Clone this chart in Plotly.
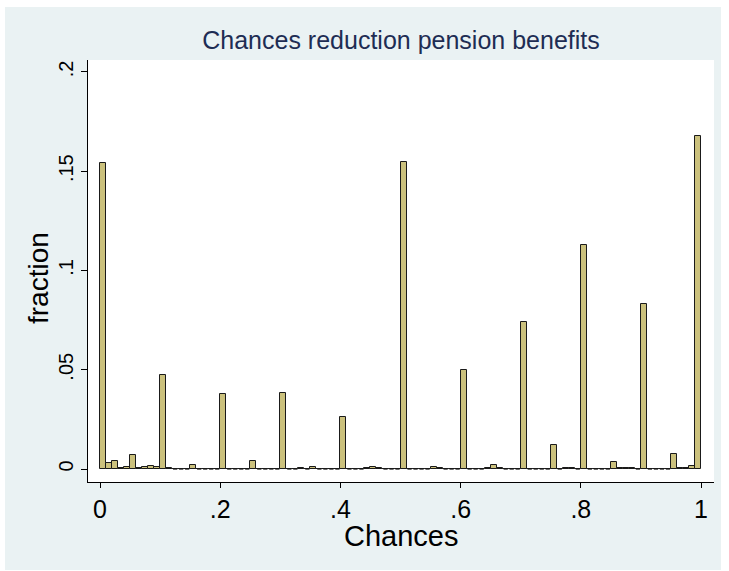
import plotly.graph_objects as go

# Histogram of "Chances" in 100 bins of width 0.01 on [0, 1]; heights are fractions
bin_width = 0.01
fractions = [
    0.1542, 0.0029, 0.0040, 0.0005, 0.0012, 0.0069, 0.0003, 0.0012, 0.0015, 0.0008,  # 0.00-0.09
    0.0474, 0.0003, 0.0, 0.0, 0.0, 0.0020, 0.0, 0.0, 0.0, 0.0,                        # 0.10-0.19
    0.0376, 0.0, 0.0, 0.0, 0.0, 0.0039, 0.0, 0.0, 0.0, 0.0,                           # 0.20-0.29
    0.0383, 0.0, 0.0, 0.0003, 0.0, 0.0008, 0.0, 0.0, 0.0, 0.0,                        # 0.30-0.39
    0.0262, 0.0, 0.0, 0.0, 0.0003, 0.0008, 0.0003, 0.0, 0.0, 0.0,                     # 0.40-0.49
    0.1544, 0.0, 0.0, 0.0, 0.0, 0.0008, 0.0003, 0.0, 0.0, 0.0,                        # 0.50-0.59
    0.0499, 0.0, 0.0, 0.0, 0.0003, 0.0018, 0.0003, 0.0, 0.0, 0.0,                     # 0.60-0.69
    0.0741, 0.0, 0.0, 0.0, 0.0, 0.0120, 0.0, 0.0003, 0.0003, 0.0,                     # 0.70-0.79
    0.1128, 0.0, 0.0, 0.0, 0.0, 0.0037, 0.0003, 0.0003, 0.0003, 0.0,                  # 0.80-0.89
    0.0829, 0.0, 0.0, 0.0, 0.0, 0.0074, 0.0003, 0.0003, 0.0013, 0.1678,               # 0.90-0.99
]

x_tickvals = [0, 0.2, 0.4, 0.6, 0.8, 1.0]
x_ticktext = ["0", ".2", ".4", ".6", ".8", "1"]
y_tickvals = [0, 0.05, 0.1, 0.15, 0.2]
y_ticktext = ["0", ".05", ".1", ".15", ".2"]

title_text = "Chances reduction pension benefits"
x_title = "Chances"
y_title = "fraction"

bin_left = [i * bin_width for i in range(len(fractions))]
bin_center = [b + bin_width / 2 for b in bin_left]

# empty bins are shown as short outline strokes on the baseline
gap = 0.0015
zx, zy = [], []
for b, f in zip(bin_left, fractions):
    if f == 0:
        zx += [b + gap, b + bin_width - gap, None]
        zy += [0, 0, None]

FONT = "Liberation Sans, Arial, Helvetica, sans-serif"
BAR_FILL = "#CBC17D"
OUTLINE = "#1a1a1a"

W, H = 729, 571
L, R, T, B = 88, 15, 60, 89
plot_w = W - L - R
plot_h = H - T - B

fig = go.Figure()
fig.add_trace(go.Bar(
    x=bin_center, y=fractions, width=bin_width,
    marker=dict(color=BAR_FILL, line=dict(color=OUTLINE, width=1)),
    hoverinfo="x+y",
))
fig.add_trace(go.Scatter(
    x=zx, y=zy, mode="lines",
    line=dict(color=OUTLINE, width=1.3),
    hoverinfo="skip",
))

fig.update_layout(
    width=W, height=H,
    margin=dict(l=L, r=R, t=T, b=B),
    paper_bgcolor="white",
    plot_bgcolor="white",
    showlegend=False,
    bargap=0,
    font=dict(family=FONT, color="black"),
    title=dict(
        text=title_text, xref="paper", x=0.5, xanchor="center",
        y=1 - 40 / H, yanchor="middle",
        font=dict(size=25, color="#1E2D53", family=FONT),
    ),
    shapes=[
        # graph region panel
        dict(type="rect", xref="paper", yref="paper", layer="below",
             x0=-0.1326, x1=1.0112, y0=-0.2085, y1=1.1256,
             fillcolor="#EAF2F3", line=dict(width=0)),
        # plot region
        dict(type="rect", xref="paper", yref="paper", layer="below",
             x0=0, x1=1, y0=0, y1=1,
             fillcolor="white", line=dict(width=0)),
    ],
    annotations=[
        dict(text=y_title, textangle=-90, showarrow=False,
             xref="paper", yref="paper",
             x=(38 - L) / plot_w, y=(H - B - 278) / plot_h,
             xanchor="center", yanchor="middle",
             font=dict(size=28, color="black", family=FONT)),
        dict(text=x_title, showarrow=False,
             xref="paper", yref="paper",
             x=0.5, y=(H - B - 536) / plot_h,
             xanchor="center", yanchor="middle",
             font=dict(size=29, color="black", family=FONT)),
    ],
    xaxis=dict(
        range=[-0.02, 1.0216],
        tickvals=x_tickvals, ticktext=x_ticktext,
        ticks="outside", ticklen=5, tickcolor="black", tickwidth=1,
        showline=True, linecolor="black", linewidth=1,
        showgrid=False, zeroline=False,
        tickfont=dict(size=25, color="black"),
    ),
    yaxis=dict(
        range=[-0.00655, 0.206],
        tickvals=y_tickvals, ticktext=y_ticktext, tickangle=-90,
        ticks="outside", ticklen=6, tickcolor="black", tickwidth=1,
        showline=True, linecolor="black", linewidth=1,
        showgrid=False, zeroline=False,
        tickfont=dict(size=20, color="black"),
    ),
)

fig.write_html("out.html")
